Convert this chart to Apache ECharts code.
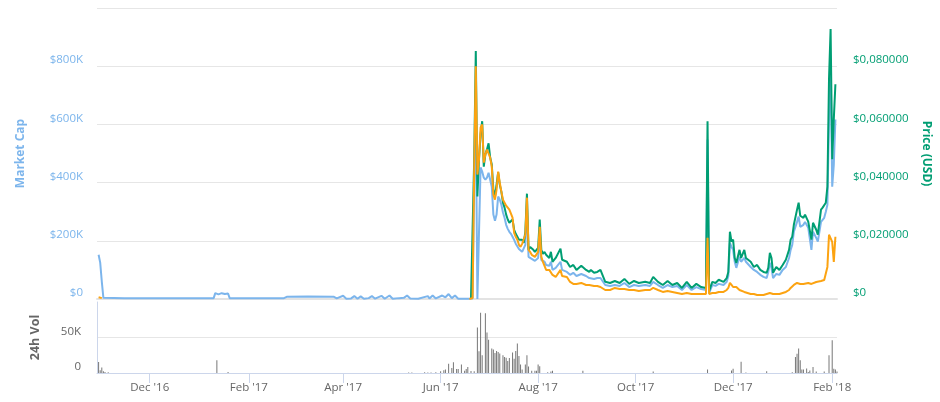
<!DOCTYPE html>
<html><head><meta charset="utf-8">
<script src="https://cdn.jsdelivr.net/npm/echarts@6/dist/echarts.min.js"></script>
<style>html,body{margin:0;padding:0;background:#fff}#c{width:940px;height:402px}</style>
</head><body><div id="c"></div>
<script>
// ---------- DATA ----------
const dates = [
'2016-10-30','2016-10-31','2016-11-01','2016-11-02','2016-11-15','2016-12-01','2016-12-20','2017-01-10','2017-01-11','2017-01-13',
'2017-01-15','2017-01-17','2017-01-19','2017-01-20','2017-02-10','2017-02-23','2017-02-25','2017-03-10','2017-03-26','2017-03-28',
'2017-04-01','2017-04-03','2017-04-06','2017-04-08','2017-04-10','2017-04-12','2017-04-14','2017-04-17','2017-04-19','2017-04-21',
'2017-04-25','2017-04-27','2017-04-30','2017-05-02','2017-05-06','2017-05-09','2017-05-11','2017-05-13','2017-05-18','2017-05-24',
'2017-05-25','2017-05-27','2017-05-29','2017-06-02','2017-06-04','2017-06-06','2017-06-08','2017-06-10','2017-06-12','2017-06-16',
'2017-06-19','2017-06-20','2017-06-21','2017-06-22','2017-06-23','2017-06-24','2017-06-25','2017-06-26','2017-06-27','2017-06-28',
'2017-06-29','2017-06-30','2017-07-01','2017-07-02','2017-07-03','2017-07-04','2017-07-05','2017-07-06','2017-07-07','2017-07-08',
'2017-07-09','2017-07-10','2017-07-11','2017-07-12','2017-07-13','2017-07-14','2017-07-15','2017-07-16','2017-07-17','2017-07-18',
'2017-07-19','2017-07-20','2017-07-21','2017-07-22','2017-07-23','2017-07-24','2017-07-25','2017-07-26','2017-07-27','2017-07-28',
'2017-07-29','2017-07-30','2017-07-31','2017-08-01','2017-08-02','2017-08-03','2017-08-04','2017-08-05','2017-08-06','2017-08-08',
'2017-08-09','2017-08-10','2017-08-12','2017-08-15','2017-08-16','2017-08-19','2017-08-21','2017-08-23','2017-08-25','2017-08-28',
'2017-08-31','2017-09-02','2017-09-03','2017-09-05','2017-09-07','2017-09-09','2017-09-12','2017-09-15','2017-09-18','2017-09-21',
'2017-09-24','2017-09-27','2017-09-30','2017-10-03','2017-10-07','2017-10-10','2017-10-12','2017-10-15','2017-10-18','2017-10-21',
'2017-10-24','2017-10-27','2017-10-30','2017-11-02','2017-11-05','2017-11-08','2017-11-11','2017-11-14','2017-11-15','2017-11-16',
'2017-11-18','2017-11-20','2017-11-22','2017-11-25','2017-11-27','2017-11-28','2017-11-29','2017-11-30','2017-12-01','2017-12-02',
'2017-12-03','2017-12-05','2017-12-06','2017-12-08','2017-12-09','2017-12-12','2017-12-14','2017-12-16','2017-12-18','2017-12-20',
'2017-12-22','2017-12-23','2017-12-24','2017-12-25','2017-12-26','2017-12-28','2017-12-30','2018-01-01','2018-01-03','2018-01-05',
'2018-01-06','2018-01-07','2018-01-08','2018-01-10','2018-01-11','2018-01-12','2018-01-14','2018-01-15','2018-01-17','2018-01-19',
'2018-01-20','2018-01-22','2018-01-23','2018-01-25','2018-01-26','2018-01-27','2018-01-28','2018-01-29','2018-01-30','2018-01-31',
'2018-02-01','2018-02-02','2018-02-03'
];
// Market cap, USD
const marketCap = [
152000,125000,60000,4000,3000,3000,3000,3000,20000,16000,
20000,17000,19000,3000,3000,3000,8000,9000,8000,2000,
11000,1000,2000,10000,1000,9000,1000,3000,10000,1000,
11000,1000,12000,1000,3000,4000,12000,2000,1000,10000,
2000,12000,2000,12000,6000,17000,3000,12000,1000,1000,
1000,1000,2000,410000,652000,0,0,452000,438000,417000,
410000,417000,434000,410000,386000,290000,269000,290000,352000,341000,
324000,297000,279000,255000,241000,231000,224000,214000,203000,190000,
186000,172000,169000,162000,159000,186000,317000,145000,141000,138000,
134000,131000,128000,141000,214000,134000,128000,128000,117000,114000,
128000,100000,107000,128000,100000,93000,83000,90000,79000,86000,
79000,72000,76000,69000,72000,72000,48000,45000,48000,45000,
55000,41000,48000,45000,48000,45000,59000,48000,38000,48000,
41000,45000,31000,48000,31000,41000,34000,31000,548000,21000,
48000,45000,52000,48000,59000,79000,193000,179000,169000,128000,
107000,145000,128000,141000,128000,110000,100000,93000,83000,76000,
72000,93000,124000,107000,72000,86000,83000,100000,110000,141000,
169000,186000,231000,265000,283000,248000,255000,265000,245000,169000,
231000,210000,197000,265000,272000,279000,300000,324000,617000,807000,
386000,462000,617000
];
// Price in USD (null = no value)
const priceUsd = [
null,null,null,null,null,null,null,null,null,null,
null,null,null,null,null,null,null,null,null,null,
null,null,null,null,null,null,null,null,null,null,
null,null,null,null,null,null,null,null,null,null,
null,null,null,null,null,null,null,null,null,null,
null,0.0002,0.0007,0.048,0.0852,0.0352,0.048,0.0566,0.0611,0.0455,
0.0497,0.0514,0.0535,0.0486,0.0462,0.0376,0.0352,0.0393,0.0435,0.0393,
0.0369,0.0331,0.0314,0.029,0.0273,0.0262,0.0266,0.0273,0.0238,0.0224,
0.0214,0.0204,0.02,0.0204,0.0193,0.0231,0.0362,0.0169,0.0179,0.0173,
0.0169,0.0162,0.0166,0.0176,0.0273,0.0169,0.0155,0.0162,0.0152,0.0141,
0.0162,0.0128,0.0141,0.0173,0.0135,0.0128,0.011,0.0117,0.01,0.0114,
0.01,0.0093,0.01,0.009,0.0093,0.01,0.0059,0.0055,0.0062,0.0055,
0.0069,0.0052,0.0062,0.0055,0.0059,0.0055,0.0076,0.0059,0.0048,0.0062,
0.0048,0.0055,0.0038,0.0059,0.0038,0.0052,0.0041,0.0038,0.0611,0.0028,
0.0059,0.0055,0.0066,0.0059,0.0072,0.0093,0.0231,0.0197,0.0204,0.0141,
0.0124,0.0169,0.0141,0.0169,0.0141,0.0128,0.011,0.0117,0.01,0.0093,
0.009,0.0107,0.0159,0.0141,0.009,0.011,0.01,0.0117,0.0135,0.0169,
0.0204,0.0214,0.0255,0.0307,0.0331,0.0286,0.0279,0.029,0.0266,0.0204,
0.0262,0.0238,0.0221,0.0307,0.0314,0.0317,0.0331,0.0386,0.0756,0.0928,
0.048,0.0618,0.0738
];
// Price in BTC, satoshi (null = no value)
const priceBtcSat = [
25,20,12,null,null,null,null,null,null,null,
null,null,null,null,null,null,null,null,null,null,
null,null,null,null,null,null,null,null,null,null,
null,null,null,null,null,null,null,null,null,null,
null,null,null,null,null,null,null,null,null,null,
1,1,14,1779,3199,1710,1917,2358,2399,1875,
1986,2055,2082,1944,1820,1434,1365,1503,1751,1600,
1476,1365,1324,1282,1255,1227,1200,1117,910,855,
814,745,717,758,772,883,1393,676,648,607,
593,579,579,648,993,579,510,496,400,400,
427,331,303,400,317,303,234,207,207,221,
193,193,193,179,179,165,124,124,152,138,
138,124,124,110,124,124,152,124,97,110,
97,83,69,83,69,69,69,69,841,69,
83,83,97,97,124,152,221,193,165,138,
165,124,110,97,83,69,69,55,55,55,
69,83,83,69,69,69,69,83,97,124,
152,165,193,221,221,207,207,221,221,207,
221,234,248,248,262,262,276,441,883,910,
786,510,855
];
const volDates = [
'2016-10-30','2016-10-31','2016-11-01','2016-11-02','2016-11-03','2016-11-05','2017-01-12','2017-01-19',
'2017-05-12','2017-05-14','2017-05-22','2017-05-24','2017-05-26','2017-05-29','2017-06-01','2017-06-03',
'2017-06-04','2017-06-06','2017-06-08','2017-06-09','2017-06-11','2017-06-12','2017-06-14','2017-06-16',
'2017-06-17','2017-06-18','2017-06-20','2017-06-22','2017-06-24','2017-06-25','2017-06-26','2017-06-27',
'2017-06-29','2017-06-30','2017-07-01','2017-07-03','2017-07-04','2017-07-05','2017-07-06','2017-07-07',
'2017-07-08','2017-07-10','2017-07-11','2017-07-12','2017-07-13','2017-07-14','2017-07-16','2017-07-17',
'2017-07-18','2017-07-19','2017-07-20','2017-07-21','2017-07-22','2017-07-24','2017-07-25','2017-07-26',
'2017-07-28','2017-07-30','2017-07-31','2017-08-01','2017-08-02','2017-08-07','2017-08-09','2017-08-10',
'2017-08-29','2017-10-12','2017-11-15','2017-11-30','2017-12-01','2017-12-06','2017-12-09','2017-12-22',
'2018-01-07','2018-01-09','2018-01-10','2018-01-11','2018-01-12','2018-01-13','2018-01-14','2018-01-16',
'2018-01-17','2018-01-18','2018-01-20','2018-01-22','2018-01-27','2018-01-30','2018-02-01','2018-02-02',
'2018-02-03','2018-02-04'
];
const volume = [
15500,3800,7600,2400,1500,1000,18000,1500,
600,600,1000,800,800,1000,2500,4000,
5000,13000,7000,15000,5700,5700,12000,3000,
5700,8500,2800,2400,64000,30600,85000,25000,
84000,57000,47000,34500,33000,28000,31000,29500,
27500,25000,22600,21500,17000,21000,28800,20000,
31000,41500,24000,12000,5000,12000,25000,9000,
3000,3000,3000,12000,9400,1000,2000,3000,
3000,2000,5000,3500,6000,16000,800,2500,
1000,22600,27000,34500,18000,5000,5000,6500,
1500,3500,8500,2000,2000,25000,46000,6000,
5000,2000
];
const tickDates = ['2016-12-01','2017-02-01','2017-04-01','2017-06-01','2017-08-01','2017-10-01','2017-12-01','2018-02-01'];
const tickLabels = ["Dec '16","Feb '17","Apr '17","Jun '17","Aug '17","Oct '17","Dec '17","Feb '18"];

// ---------- CHART ----------
function ts(s){const p=s.split('-').map(Number);return Date.UTC(p[0],p[1]-1,p[2]);}
const FONT = '"Open Sans", "DejaVu Sans", sans-serif';
const tickTs = tickDates.map(ts);
const xMin = ts('2016-10-29'), xMax = ts('2018-02-04');
const pair = (arr) => dates.map((d,i)=>[ts(d), arr[i]===null ? '-' : arr[i]]);

const chart = echarts.init(document.getElementById('c'), null, {renderer:'canvas'});
chart.setOption({
  animation:false,
  backgroundColor:'#fff',
  textStyle:{fontFamily:FONT},
  grid:[
    {left:97, right:103, top:8, height:291},
    {left:97, right:103, top:302, height:71}
  ],
  xAxis:[
    {type:'value', gridIndex:0, min:xMin, max:xMax, scale:true,
     axisLabel:{show:false}, axisTick:{show:false}, splitLine:{show:false},
     axisLine:{lineStyle:{color:'#e3e3e3', width:2}}},
    {type:'value', gridIndex:1, min:xMin, max:xMax, scale:true, splitLine:{show:false},
     axisLine:{lineStyle:{color:'#ccd6eb'}},
     axisTick:{customValues:tickTs, length:10, lineStyle:{color:'#ccd6eb'}},
     axisLabel:{customValues:tickTs, color:'#666', fontSize:11.5, fontFamily:FONT, margin:9,
       formatter:(v)=>{const i=tickTs.indexOf(v);return i>=0?tickLabels[i]:'';}}}
  ],
  yAxis:[
    {type:'value', gridIndex:0, min:0, max:1000000, interval:200000,
     name:'Market Cap', nameLocation:'middle', nameGap:70, nameRotate:90,
     nameTextStyle:{color:'#7cb5ec', fontWeight:'bold', fontSize:12, fontFamily:FONT},
     axisLine:{show:false}, axisTick:{show:false},
     axisLabel:{color:'#7cb5ec', fontSize:11.5, fontFamily:FONT, margin:14, verticalAlign:'bottom', showMaxLabel:false,
       formatter:(v)=> v===0 ? '$0' : '$'+Math.round(v/1000)+'K'},
     splitLine:{lineStyle:{color:'#e6e6e6'}}},
    {type:'value', gridIndex:0, position:'right', min:0, max:0.1, interval:0.02,
     name:'Price (USD)', nameLocation:'middle', nameGap:83, nameRotate:-90,
     nameTextStyle:{color:'#009e73', fontWeight:'bold', fontSize:12, fontFamily:FONT},
     axisLine:{show:false}, axisTick:{show:false},
     axisLabel:{color:'#009e73', fontSize:11.5, fontFamily:FONT, margin:16, verticalAlign:'bottom', showMaxLabel:false,
       formatter:(v)=> v===0 ? '$0' : '$'+v.toFixed(6).replace('.',',')},
     splitLine:{show:false}},
    {type:'value', gridIndex:0, min:0, max:4000, show:false, splitLine:{show:false}},
    {type:'value', gridIndex:1, min:0, max:100000, interval:50000,
     name:'24h Vol', nameLocation:'middle', nameGap:55, nameRotate:90,
     nameTextStyle:{color:'#666', fontWeight:'bold', fontSize:12.5, fontFamily:FONT},
     axisLine:{show:true, lineStyle:{color:'#ccd6eb'}}, axisTick:{show:false},
     axisLabel:{color:'#666', fontSize:11.5, fontFamily:FONT, margin:16, verticalAlign:'bottom', showMaxLabel:false,
       formatter:(v)=> v===0 ? '0' : Math.round(v/1000)+'K'},
     splitLine:{lineStyle:{color:'#e6e6e6'}, showMaxLine:false}}
  ],
  series:[
    {name:'Market Cap', type:'line', xAxisIndex:0, yAxisIndex:0, data:pair(marketCap),
     showSymbol:false, symbol:'none', lineStyle:{width:2, color:'#7cb5ec'}, itemStyle:{color:'#7cb5ec'}, z:2},
    {name:'Price (USD)', type:'line', xAxisIndex:0, yAxisIndex:1, data:pair(priceUsd),
     showSymbol:false, symbol:'none', lineStyle:{width:2, color:'#009e73'}, itemStyle:{color:'#009e73'}, z:3},
    {name:'Price (BTC)', type:'line', xAxisIndex:0, yAxisIndex:2, data:pair(priceBtcSat),
     showSymbol:false, symbol:'none', lineStyle:{width:2, color:'#fca311'}, itemStyle:{color:'#fca311'}, z:4},
    {name:'24h Vol', type:'bar', xAxisIndex:1, yAxisIndex:3,
     data:volDates.map((d,i)=>[ts(d), volume[i]]), barWidth:1, itemStyle:{color:'#777'}}
  ]
});
</script>
</body></html>
